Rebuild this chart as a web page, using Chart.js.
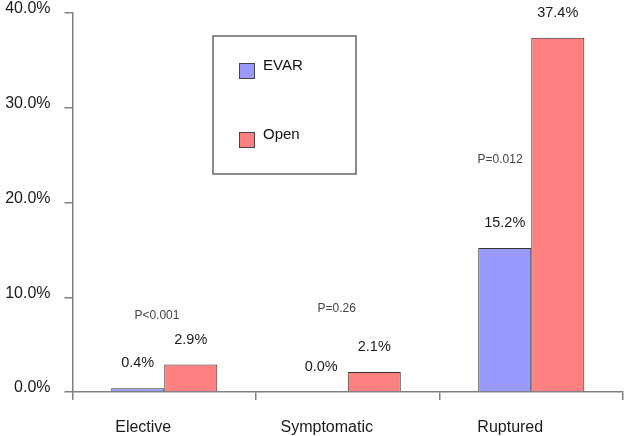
<!DOCTYPE html>
<html>
<head>
<meta charset="utf-8">
<script src="https://cdn.jsdelivr.net/npm/chart.js@4/dist/chart.umd.min.js"></script>
<style>
  body { margin: 0; background: #fff; }
  #wrap { width: 626px; height: 436px; }
</style>
</head>
<body>
<div id="wrap"><canvas id="chart" width="626" height="436"></canvas></div>
<script>
  const categories = ['Elective', 'Symptomatic', 'Ruptured'];
  const seriesNames = ['EVAR', 'Open'];
  const evarValues = [0.4, 0.0, 15.2];
  const openValues = [2.9, 2.1, 37.4];
  const seriesColors = ['#9999ff', '#ff8080'];
  const yTicks = [0, 10, 20, 30, 40];
  const pValueLabels = ['P<0.001', 'P=0.26', 'P=0.012'];
  // where each p-value sits: category index (fractional) and value on the y scale
  const pValueSpots = [[-0.04, 8.1], [0.94, 8.8], [1.83, 24.5]];

  const FONT = '"Liberation Sans", Arial, sans-serif';

  // value labels above every bar
  const barLabels = {
    id: 'barLabels',
    afterDatasetsDraw(chart) {
      const ctx = chart.ctx;
      ctx.save();
      ctx.font = '14.5px ' + FONT;
      ctx.fillStyle = '#1a1a1a';
      ctx.textAlign = 'center';
      ctx.textBaseline = 'middle';
      chart.data.datasets.forEach((ds, i) => {
        chart.getDatasetMeta(i).data.forEach((bar, j) => {
          ctx.fillText(ds.data[j].toFixed(1) + '%', bar.x, bar.y - 25);
        });
      });
      ctx.restore();
    },
  };

  // p-values
  const pValues = {
    id: 'pValues',
    afterDatasetsDraw(chart) {
      const ctx = chart.ctx;
      const xs = chart.scales.x;
      const ys = chart.scales.y;
      ctx.save();
      ctx.font = '12px ' + FONT;
      ctx.fillStyle = '#444';
      ctx.textAlign = 'center';
      ctx.textBaseline = 'middle';
      pValueLabels.forEach((text, i) => {
        const [cx, v] = pValueSpots[i];
        ctx.fillText(text, xs.getPixelForValue(cx), ys.getPixelForValue(v));
      });
      ctx.restore();
    },
  };

  // boxed legend drawn inside the plot
  const boxLegend = {
    id: 'boxLegend',
    afterDraw(chart) {
      const ctx = chart.ctx;
      ctx.save();
      ctx.strokeStyle = '#666';
      ctx.lineWidth = 1.5;
      ctx.strokeRect(213, 36, 143, 138);
      ctx.font = '15px ' + FONT;
      ctx.textBaseline = 'middle';
      seriesNames.forEach((name, i) => {
        const top = 63 + i * 69;
        ctx.fillStyle = seriesColors[i];
        ctx.fillRect(239, top, 15, 15);
        ctx.strokeStyle = '#444';
        ctx.lineWidth = 1;
        ctx.strokeRect(239.5, top + 0.5, 15, 15);
        ctx.fillStyle = '#111';
        ctx.fillText(name, 263, top + 3);
      });
      ctx.restore();
    },
  };

  new Chart(document.getElementById('chart'), {
    type: 'bar',
    data: {
      labels: categories,
      datasets: [
        {
          label: seriesNames[0],
          data: evarValues,
          backgroundColor: seriesColors[0],
          borderColor: '#333',
          borderWidth: 1,
          categoryPercentage: 0.578,
          barPercentage: 1,
        },
        {
          label: seriesNames[1],
          data: openValues,
          backgroundColor: seriesColors[1],
          borderColor: '#333',
          borderWidth: 1,
          categoryPercentage: 0.578,
          barPercentage: 1,
        },
      ],
    },
    options: {
      responsive: false,
      animation: false,
      layout: { padding: { top: 13, right: 3, left: 0, bottom: 0 } },
      plugins: {
        legend: { display: false },
        tooltip: { enabled: false },
      },
      scales: {
        x: {
          afterFit(scale) {
            scale.height = 44;
            scale.paddingLeft = 0;
            scale.paddingRight = 0;
          },
          border: { color: '#808080', width: 1.5 },
          grid: { offset: true, drawOnChartArea: false, tickLength: 8, color: '#808080', lineWidth: 1.5 },
          ticks: {
            font: { family: FONT, size: 16 },
            color: '#1a1a1a',
            padding: 18,
            labelOffset: -21,
            maxRotation: 0,
          },
        },
        y: {
          min: 0,
          max: 40,
          afterFit(scale) {
            scale.width = 72.5;
            scale.paddingTop = 0;
            scale.paddingBottom = 0;
          },
          afterBuildTicks(scale) { scale.ticks = yTicks.map((v) => ({ value: v })); },
          border: { color: '#808080', width: 1.5 },
          grid: { drawOnChartArea: false, tickLength: 8, color: '#808080', lineWidth: 1.5 },
          ticks: {
            font: { family: FONT, size: 16 },
            color: '#1a1a1a',
            padding: 14,
            labelOffset: -4,
            callback: (v) => Number(v).toFixed(1) + '%',
          },
        },
      },
    },
    plugins: [barLabels, pValues, boxLegend],
  });
</script>
</body>
</html>
